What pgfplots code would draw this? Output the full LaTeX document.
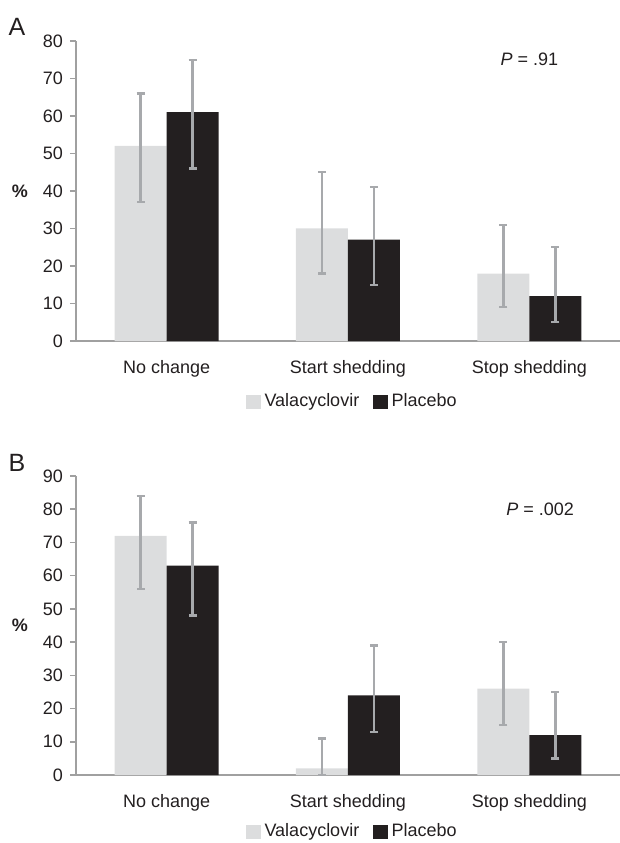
\documentclass[border=0pt]{standalone}
\usepackage{pgfplots}
\pgfplotsset{compat=1.18}
\usepackage{fontspec}
\setmainfont{Liberation Sans}
\definecolor{valc}{HTML}{DCDDDE}
\definecolor{plac}{HTML}{231F20}
\definecolor{errc}{HTML}{A7A9AC}
\definecolor{axc}{HTML}{A0A0A0}
\definecolor{txt}{HTML}{231F20}
\pgfplotsset{
  mystyle/.style={
    scale only axis, width=272pt,
    ybar=0pt, bar width=26pt,
    xmin=-0.5, xmax=2.5, ymin=0,
    axis x line=bottom, axis y line=left,
    axis line style={axc, line width=0.8pt, -},
    xtick={0,1,2}, xticklabels={No change, Start shedding, Stop shedding},
    x tick style={draw=none},
    y tick style={axc, line width=0.8pt},
    tick align=outside, major tick length=3pt,
    tick label style={font=\fontsize{9}{10}\selectfont, text=txt},
    /pgf/number format/assume math mode=true,
    xticklabel style={yshift=-3pt},
    legend style={draw=none, fill=none, legend columns=2, anchor=center,
      font=\fontsize{9}{10}\selectfont, text=txt,
      /tikz/every even column/.append style={column sep=5pt},
      legend cell align=left, inner sep=0pt},
    legend image code/.code={\path[##1] (4pt,-3.6pt) rectangle (11.2pt,3.6pt);},
    error bars/y dir=both, error bars/y explicit,
    error bars/error bar style={errc, line width=1.2pt},
    error bars/error mark options={errc, line width=1.2pt, mark size=2pt, rotate=90},
    clip=false,
  }
}
\begin{document}
\begin{tikzpicture}
\begin{axis}[mystyle, height=150pt, ymax=80, ytick={0,10,...,80},
  at={(38pt,251pt)}, anchor=south west,
  legend style={at={(0.51,-0.203)}}]
\addplot[fill=valc, draw=none] coordinates {
  (0,52) += (0,14) -= (0,15)
  (1,30) += (0,15) -= (0,12)
  (2,18) += (0,13) -= (0,9)};
\addplot[fill=plac, draw=none] coordinates {
  (0,61) += (0,14) -= (0,15)
  (1,27) += (0,14) -= (0,12)
  (2,12) += (0,13) -= (0,7)};
\legend{Valacyclovir, Placebo}
\node[font=\fontsize{9}{10}\selectfont, text=txt] at (axis cs:2.0,75) {\textit{P} = .91};
\node[font=\fontsize{9}{10}\selectfont\bfseries, text=txt] at (rel axis cs:-0.103,0.5) {\%};
\end{axis}
\begin{axis}[mystyle, height=149.5pt, ymax=90, ytick={0,10,...,90},
  at={(38pt,34pt)}, anchor=south west,
  legend style={at={(0.51,-0.19)}}]
\addplot[fill=valc, draw=none] coordinates {
  (0,72) += (0,12) -= (0,16)
  (1,2) += (0,9) -= (0,2)
  (2,26) += (0,14) -= (0,11)};
\addplot[fill=plac, draw=none] coordinates {
  (0,63) += (0,13) -= (0,15)
  (1,24) += (0,15) -= (0,11)
  (2,12) += (0,13) -= (0,7)};
\legend{Valacyclovir, Placebo}
\node[font=\fontsize{9}{10}\selectfont, text=txt] at (axis cs:2.06,80) {\textit{P} = .002};
\node[font=\fontsize{9}{10}\selectfont\bfseries, text=txt] at (rel axis cs:-0.103,0.5) {\%};
\end{axis}
\node[font=\fontsize{12.5}{14}\selectfont, text=txt] at (8.5pt,408pt) {A};
\node[font=\fontsize{12.5}{14}\selectfont, text=txt] at (8.5pt,190pt) {B};
\pgfresetboundingbox
\path (0,0) rectangle (310pt,421.5pt);
\end{tikzpicture}
\end{document}
